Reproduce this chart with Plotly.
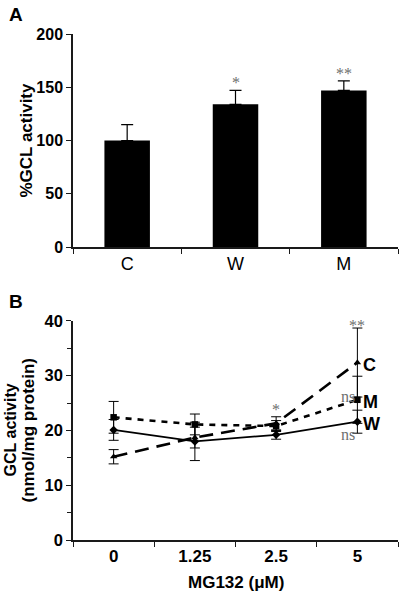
import plotly.graph_objects as go

# Panel A data
a_categories = ["C", "W", "M"]
a_values = [100, 134, 147]
a_errors = [15, 13, 9]
a_stars = ["", "*", "**"]

# Panel B data
b_doses = ["0", "1.25", "2.5", "5"]
b_C = [15.2, 18.7, 21.3, 32.4]
b_C_err = [1.3, 1.9, 1.2, 6.3]
b_M = [22.4, 21.1, 20.8, 25.6]
b_M_err = [2.9, 1.9, 1.0, 4.3]
b_W = [20.1, 18.0, 19.2, 21.6]
b_W_err = [1.9, 3.5, 0.8, 2.1]

FONT = "Liberation Sans, Arial, sans-serif"
SERIF = "Liberation Serif, Times New Roman, serif"
AX = "#1a1a1a"
STAR = "#6e6e6e"

fig = go.Figure()

fig.add_trace(go.Bar(
    x=a_categories, y=a_values, width=0.42,
    marker=dict(color="black", line=dict(width=0)),
    error_y=dict(type="data", array=a_errors, symmetric=False,
                 arrayminus=[0] * len(a_errors), color="black",
                 thickness=1.2, width=6),
    xaxis="x", yaxis="y", showlegend=False, hoverinfo="skip",
))

series = [
    ("C", b_C, b_C_err, "14px,8px", 2.6, "triangle-up"),
    ("M", b_M, b_M_err, "6px,6px", 2.6, "square"),
    ("W", b_W, b_W_err, "solid", 1.8, "diamond"),
]
for name, vals, errs, dash, lw, sym in series:
    fig.add_trace(go.Scatter(
        x=b_doses, y=vals, mode="lines+markers", name=name,
        line=dict(color="black", width=lw, dash=dash),
        marker=dict(symbol=sym, size=6.5, color="black"),
        error_y=dict(type="data", array=errs, color="black",
                     thickness=1, width=5),
        xaxis="x2", yaxis="y2", showlegend=False, hoverinfo="skip",
    ))

last = len(b_doses) - 1
annotations = []
# significance marks panel A
for i, (v, e, s) in enumerate(zip(a_values, a_errors, a_stars)):
    if s:
        annotations.append(dict(x=i, y=v + e, xref="x", yref="y", text=s,
                                showarrow=False, yanchor="bottom", yshift=-3,
                                font=dict(family=SERIF, size=16, color=STAR)))
# significance marks panel B
annotations.append(dict(x=2, y=b_C[2] + b_C_err[2], xref="x2", yref="y2", text="*",
                        showarrow=False, yanchor="bottom", yshift=-3,
                        font=dict(family=SERIF, size=16, color=STAR)))
annotations.append(dict(x=last, y=b_C[last] + b_C_err[last], xref="x2", yref="y2", text="**",
                        showarrow=False, yanchor="bottom", yshift=-8,
                        font=dict(family=SERIF, size=16, color=STAR)))
annotations.append(dict(x=last, y=b_M[last] + 0.6, xref="x2", yref="y2", text="ns",
                        showarrow=False, xanchor="right", yanchor="middle", xshift=0,
                        font=dict(family=SERIF, size=16, color=STAR)))
annotations.append(dict(x=last, y=b_W[last] - 2.4, xref="x2", yref="y2", text="ns",
                        showarrow=False, xanchor="right", yanchor="middle", xshift=0,
                        font=dict(family=SERIF, size=16, color=STAR)))
# series labels
for name, vals, _, _, _, _ in series:
    annotations.append(dict(x=last, y=vals[-1], xref="x2", yref="y2", text="<b>%s</b>" % name,
                            showarrow=False, xanchor="left", xshift=4, yshift=-2,
                            font=dict(family=FONT, size=18, color="black")))
# panel letters
annotations.append(dict(x=(7 - 73) / 325, y=1 + (34 - 14.5) / 506, xref="paper", yref="paper",
                        text="<b>A</b>", showarrow=False, xanchor="left", yanchor="middle",
                        font=dict(family=FONT, size=19, color="black")))
annotations.append(dict(x=(7 - 73) / 325, y=(540 - 301) / 506, xref="paper", yref="paper",
                        text="<b>B</b>", showarrow=False, xanchor="left", yanchor="middle",
                        font=dict(family=FONT, size=19, color="black")))
# y titles
annotations.append(dict(x=(27 - 73) / 325, y=(1 + 0.579) / 2, xref="paper", yref="paper",
                        text="<b>%GCL activity</b>", textangle=-90, showarrow=False,
                        xanchor="center", yanchor="middle",
                        font=dict(family=FONT, size=17, color="black")))
annotations.append(dict(x=(10 - 73) / 325, y=0.433 / 2, xref="paper", yref="paper",
                        text="<b>GCL activity</b>", textangle=-90, showarrow=False,
                        xanchor="center", yanchor="middle",
                        font=dict(family=FONT, size=16, color="black")))
annotations.append(dict(x=(28 - 73) / 325, y=0.433 / 2, xref="paper", yref="paper",
                        text="<b>(nmol/mg protein)</b>", textangle=-90, showarrow=False,
                        xanchor="center", yanchor="middle",
                        font=dict(family=FONT, size=17, color="black")))
# x title B
annotations.append(dict(x=0.5, y=-(582.5 - 540) / 506, xref="paper", yref="paper",
                        text="<b>MG132 (μM)</b>", showarrow=False, yanchor="middle",
                        font=dict(family=FONT, size=17, color="black")))

axis_common = dict(showgrid=False, zeroline=False, showline=True, linecolor=AX, linewidth=1.5,
                   ticks="outside", tickcolor=AX, tickwidth=1.2, ticklen=5)

fig.update_layout(
    width=402, height=600,
    margin=dict(l=73, r=4, t=34, b=60),
    paper_bgcolor="white", plot_bgcolor="white",
    font=dict(family=FONT, color="black"),
    annotations=annotations,
    hovermode=False,
    xaxis=dict(domain=[0, 1], anchor="y", type="category", range=[-0.5, 2.5],
               tickson="boundaries", tickfont=dict(size=18, family=FONT), **axis_common),
    yaxis=dict(domain=[0.579, 1], anchor="x", range=[0, 200], dtick=50,
               tickfont=dict(size=16, family=FONT), tickprefix="<b>", ticksuffix="</b>",
               **axis_common),
    xaxis2=dict(domain=[0, 1], anchor="y2", type="category", range=[-0.5, 3.5],
                tickson="boundaries", tickfont=dict(size=17, family=FONT),
                tickprefix="<b>", ticksuffix="</b>", **axis_common),
    yaxis2=dict(domain=[0, 0.433], anchor="x2", range=[0, 40], dtick=10,
                minor=dict(dtick=5, ticks="outside", ticklen=4, tickcolor=AX),
                tickfont=dict(size=16.5, family=FONT), tickprefix="<b>", ticksuffix="</b>",
                **axis_common),
)

fig.write_html("out.html", config={"displayModeBar": False},
               post_script="document.body.style.margin='0px';document.body.style.overflow='hidden';")
